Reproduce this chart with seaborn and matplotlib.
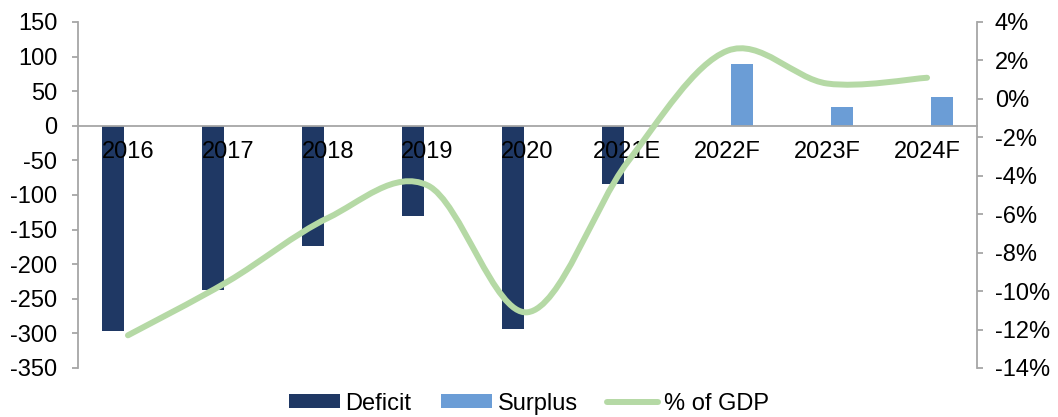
import numpy as np
import pandas as pd
import matplotlib
matplotlib.use("Agg")
import matplotlib.pyplot as plt
import seaborn as sns
from matplotlib.path import Path
from matplotlib.patches import PathPatch, Patch
from matplotlib.lines import Line2D

# ---- data ----
years = ["2016", "2017", "2018", "2019", "2020", "2021E", "2022F", "2023F", "2024F"]
deficit = [-297, -237, -174, -131, -294, -84, np.nan, np.nan, np.nan]
surplus = [np.nan, np.nan, np.nan, np.nan, np.nan, np.nan, 90, 27, 42]
gdp_pct = [-12.3, -9.5, -6.2, -4.5, -11.1, -3.3, 2.5, 0.8, 1.1]
left_ticks = list(range(-350, 151, 50))
right_ticks = list(range(-14, 5, 2))

sns.set_style("white")
plt.rcParams['font.family'] = ['Liberation Sans', 'DejaVu Sans']
plt.rcParams['font.size'] = 17
plt.rcParams['text.color'] = 'black'

DEF_C = "#1F3864"
SUR_C = "#6B9DD6"
LINE_C = "#B5D9A5"
SPINE_C = "#A6A6A6"
FS = 17

df = pd.DataFrame({
    "year": years * 2,
    "value": deficit + surplus,
    "type": ["Deficit"] * len(years) + ["Surplus"] * len(years),
}).dropna()

fig = plt.figure(figsize=(10.58, 4.17), dpi=100)
ax = fig.add_axes([78 / 1058, 1 - 368 / 417, (977 - 78) / 1058, 346 / 417])

sns.barplot(data=df, x="year", y="value", hue="type", order=years,
            hue_order=["Deficit", "Surplus"],
            palette={"Deficit": DEF_C, "Surplus": SUR_C}, saturation=1,
            dodge=True, width=0.58, gap=0.24, errorbar=None, legend=False,
            linewidth=0, ax=ax)
ax.set_axisbelow(False)
ax.set_xlim(-0.5, len(years) - 0.5)
ax.set_ylim(-350, 150)
ax.set_yticks(left_ticks)
ax.set_yticklabels([str(v) for v in left_ticks])
ax.set_xlabel("")
ax.set_ylabel("")

# x axis at zero with boundary ticks
ax.spines['bottom'].set_position(('data', 0))
for s in ['top', 'right']:
    ax.spines[s].set_visible(False)
for s in ['left', 'bottom']:
    ax.spines[s].set_color(SPINE_C)
    ax.spines[s].set_linewidth(1.3)
ax.set_xticks(range(len(years)))
ax.set_xticklabels(years, fontsize=FS)
ax.set_xticks(np.arange(-0.5, len(years), 1.0), minor=True)
ax.tick_params(axis='x', which='major', length=0, pad=11, labelcolor='black')
ax.tick_params(axis='x', which='minor', length=4.3, width=1.3, color=SPINE_C, direction='out')
ax.tick_params(axis='y', length=4.3, width=1.3, color=SPINE_C, pad=10.5, labelsize=FS,
               labelcolor='black')

# secondary axis
ax2 = ax.twinx()
ax2.set_ylim(-14, 4)
ax2.set_yticks(right_ticks)
ax2.set_yticklabels([f"{v}%" for v in right_ticks])
for s in ['top', 'left', 'bottom']:
    ax2.spines[s].set_visible(False)
ax2.spines['right'].set_color(SPINE_C)
ax2.spines['right'].set_linewidth(1.3)
ax2.tick_params(axis='y', length=4.3, width=1.3, color=SPINE_C, pad=8.5, labelsize=FS,
                labelcolor='black')
ax2.grid(False)

# smoothed line (Excel-style bezier through the data points)
xs = np.arange(len(gdp_pct), dtype=float)
ys = np.array(gdp_pct, dtype=float)
P = np.column_stack([xs, ys])
Pe = np.vstack([P[0], P, P[-1]])
verts = [tuple(P[0])]
codes = [Path.MOVETO]
for i in range(len(P) - 1):
    p0, p1, p2, p3 = Pe[i], Pe[i + 1], Pe[i + 2], Pe[i + 3]
    c1 = p1 + (p2 - p0) / 6.0
    c2 = p2 - (p3 - p1) / 6.0
    verts += [tuple(c1), tuple(c2), tuple(p2)]
    codes += [Path.CURVE4] * 3
patch = PathPatch(Path(verts, codes), facecolor='none', edgecolor=LINE_C,
                  linewidth=4.3, capstyle='round', joinstyle='round',
                  transform=ax2.transData)
ax2.add_patch(patch)

handles = [
    Patch(facecolor=DEF_C, edgecolor='none', label="Deficit"),
    Patch(facecolor=SUR_C, edgecolor='none', label="Surplus"),
    Line2D([], [], color=LINE_C, lw=4.3, solid_capstyle='round', label="% of GDP"),
]
leg = fig.legend(handles=handles, loc="center", bbox_to_anchor=(0.5, 0.032), ncol=3,
                 frameon=False, handlelength=2.15, handleheight=0.55,
                 handletextpad=0.25, columnspacing=1.25, fontsize=FS)
for t in leg.get_texts():
    t.set_color('black')

fig.savefig("out.png", dpi=100)
